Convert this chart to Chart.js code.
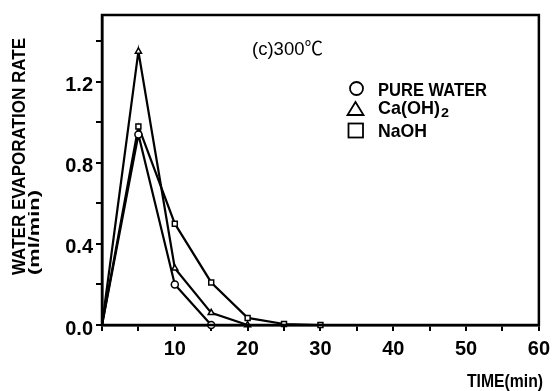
<!DOCTYPE html>
<html><head><meta charset="utf-8">
<script src="https://cdn.jsdelivr.net/npm/chart.js@4/dist/chart.umd.min.js"></script>
<style>html,body{margin:0;padding:0;background:#fff}#wrap{width:556px;height:391px}</style>
</head><body><div id="wrap"><canvas id="c" width="556" height="391"></canvas></div>
<script>
// ---- data ----
const times = [0, 5, 10, 15, 20, 25, 30];
const pureWater = [0, 0.94, 0.20, 0];
const caOH2 = [0, 1.35, 0.28, 0.06, 0];
const naOH = [0, 0.98, 0.50, 0.21, 0.035, 0.005, 0];
const seriesNames = ['PURE WATER', 'Ca(OH)2', 'NaOH'];
const xTickLabels = [10, 20, 30, 40, 50, 60];
const yTickLabels = ['0.0', '0.4', '0.8', '1.2'];
const titleText = '(c)300\u2103';
const xTitle = 'TIME(min)';
const yTitle = ['WATER EVAPORATION RATE', '(ml/min)'];

const toPts = arr => arr.map((v, i) => ({x: times[i], y: v}));
const BASE = "'Liberation Sans Narrow','Liberation Sans',Arial,sans-serif";
const TXT = "'Liberation Sans','Noto Sans CJK JP',sans-serif";

function fitText(ctx, text, x, y, w, font) {
  ctx.save();
  ctx.font = font;
  ctx.textAlign = 'left';
  ctx.textBaseline = 'alphabetic';
  const m = ctx.measureText(text).width;
  ctx.translate(x, y);
  ctx.scale(w / m, 1);
  ctx.fillText(text, 0, 0);
  ctx.restore();
}

const decor = {
  id: 'decor',
  afterDraw(chart) {
    const ctx = chart.ctx;
    const a = chart.chartArea;
    ctx.save();
    ctx.strokeStyle = '#000';
    ctx.fillStyle = '#000';
    ctx.lineWidth = 2.5;
    ctx.strokeRect(a.left, a.top, a.right - a.left, a.bottom - a.top);
    // title
    fitText(ctx, titleText, 252, 55, 71, '19px ' + TXT);
    // legend markers
    ctx.lineWidth = 1.8;
    ctx.beginPath(); ctx.arc(356.5, 88.5, 6.5, 0, Math.PI * 2); ctx.stroke();
    ctx.beginPath(); ctx.moveTo(355.5, 102); ctx.lineTo(347.5, 115); ctx.lineTo(363.5, 115); ctx.closePath(); ctx.stroke();
    ctx.strokeRect(348.5, 123.5, 14.5, 14);
    // legend texts
    fitText(ctx, seriesNames[0], 378, 96, 109, 'bold 19px ' + TXT);
    fitText(ctx, seriesNames[1].slice(0, -1), 378, 114, 62, 'bold 19px ' + TXT);
    fitText(ctx, seriesNames[1].slice(-1), 441, 117, 8, 'bold 12px ' + TXT);
    fitText(ctx, seriesNames[2], 378, 137, 49, 'bold 19px ' + TXT);
    // axis titles
    fitText(ctx, xTitle, 467, 387, 76, 'bold 18px ' + TXT);
    ctx.save(); ctx.translate(25, 275); ctx.rotate(-Math.PI / 2);
    fitText(ctx, yTitle[0], 0, 0, 237, 'bold 18px ' + TXT);
    ctx.restore();
    ctx.save(); ctx.translate(39, 275); ctx.rotate(-Math.PI / 2);
    fitText(ctx, yTitle[1], 0, 0, 85, 'bold 15px ' + TXT);
    ctx.restore();
    ctx.restore();
  }
};

const mk = (label, arr, style) => ({
  label, data: toPts(arr),
  borderColor: '#000', borderWidth: 2.2,
  pointStyle: style,
  pointRadius: arr.map((v, i) => i === 0 ? 0 : 3.5),
  pointBackgroundColor: '#fff', pointBorderColor: '#000', pointBorderWidth: 1.5,
  tension: 0, clip: false, fill: false
});

new Chart(document.getElementById('c'), {
  type: 'line',
  data: {
    datasets: [
      mk(seriesNames[0], pureWater, 'circle'),
      mk(seriesNames[1], caOH2, 'triangle'),
      mk(seriesNames[2], naOH, 'rect')
    ]
  },
  options: {
    responsive: false, animation: false, devicePixelRatio: 1,
    layout: {padding: {top: 10, right: 10, left: 0, bottom: 0}},
    plugins: {legend: {display: false}, tooltip: {enabled: false}},
    scales: {
      x: {
        type: 'linear', min: 0, max: 60,
        afterFit: s => { s.height = 66; },
        ticks: {
          stepSize: 5, autoSkip: false, maxRotation: 0, color: '#000', padding: 6,
          font: {family: BASE, size: 20, weight: 'bold'},
          callback: v => xTickLabels.includes(v) ? String(v) : ''
        },
        grid: {drawOnChartArea: false, drawTicks: true, tickLength: 6, color: '#000', lineWidth: 2},
        border: {display: true, color: '#000', width: 2.5}
      },
      y: {
        type: 'linear', min: 0, max: 1.53,
        afterFit: s => { s.width = 102; },
        ticks: {
          stepSize: 0.2, includeBounds: false, autoSkip: false, color: '#000', padding: 3, labelOffset: 4,
          font: {family: BASE, size: 20, weight: 'bold'},
          callback: v => { const l = yTickLabels.find(t => Math.abs(parseFloat(t) - v) < 1e-6); return l || ''; }
        },
        grid: {drawOnChartArea: false, drawTicks: true, tickLength: 6, color: '#000', lineWidth: 2},
        border: {display: true, color: '#000', width: 2.5}
      }
    }
  },
  plugins: [decor]
});
</script>
</body></html>
